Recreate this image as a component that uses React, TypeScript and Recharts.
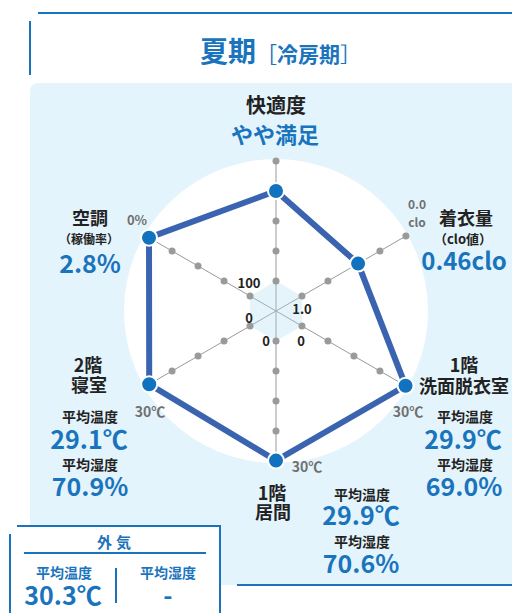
import React from 'react';
import { RadarChart, Radar, PolarGrid, PolarAngleAxis, PolarRadiusAxis } from 'recharts';

// 軸（上から時計回り）
const axes = ['快適度', '着衣量', '1階洗面脱衣室', '1階居間', '2階寝室', '空調'];
// 実測値
const rawValues = [4, 0.46, 29.9, 29.9, 29.1, 2.8];
// 中心側・外側の目盛り値
const innerEnds = [1, 1.0, 0, 0, 0, 100];
const outerEnds = [5, 0.0, 30, 30, 30, 0];
// 軸上の点（正規化 0〜100）
const gridLevels = [0, 25, 50, 75, 100];
const innerLabels = ['', '1.0', '0', '0', '0', '100'];
const outerLabels = ['', '0.0\nclo', '30℃', '30℃', '30℃', '0%'];

const FONT = '"Noto Sans CJK JP", "Noto Sans", sans-serif';
const BLUE = '#1a74bd';
const DARK = '#222';
const GRAY = '#707070';

const norm = (i: number) => ((rawValues[i] - innerEnds[i]) / (outerEnds[i] - innerEnds[i])) * 100;

const data = axes.map((axis, i) => {
  const row: Record<string, string | number> = { axis, score: norm(i), inner: 0 };
  gridLevels.forEach((lv, k) => (row[`lv${k}`] = lv));
  return row;
});

// 中心座標 (x, y) を基準にした文字ラベル
const T = ({ x, y, size, color = DARK, weight = 700, children, ls = 0 }: any) => (
  <div
    style={{
      position: 'absolute',
      left: x,
      top: y - size / 2,
      transform: 'translateX(-50%)',
      fontSize: size,
      lineHeight: `${size}px`,
      height: size,
      fontWeight: weight,
      color,
      letterSpacing: ls,
      whiteSpace: 'pre',
    }}
  >
    {children}
  </div>
);

const App = () => {
  return (
    <div style={{ position: 'absolute', left: 0, top: 0, width: 512, height: 613, overflow: 'hidden', background: '#fff', fontFamily: FONT }}>
      {/* 見出し */}
      <div style={{ position: 'absolute', left: 38, top: 12, width: 474, height: 2, background: BLUE }} />
      <div style={{ position: 'absolute', left: 29, top: 21, width: 2, height: 54, background: BLUE }} />
      <div style={{ position: 'absolute', left: 200, top: 35, height: 30, lineHeight: '30px', color: BLUE, whiteSpace: 'nowrap' }}>
        <span style={{ fontSize: 28, fontWeight: 700 }}>夏期</span>
        <span style={{ fontSize: 21, fontWeight: 400 }}>［</span>
        <span style={{ fontSize: 21, fontWeight: 700 }}>冷房期</span>
        <span style={{ fontSize: 21, fontWeight: 400 }}>］</span>
      </div>

      {/* パネル */}
      <div style={{ position: 'absolute', left: 30, top: 83, width: 482, height: 502, background: '#e4f4fc', borderTopLeftRadius: 8 }} />
      <div style={{ position: 'absolute', left: 237, top: 584, width: 275, height: 2, background: BLUE }} />
      <div style={{ position: 'absolute', left: 124, top: 159, width: 304, height: 304, borderRadius: '50%', background: '#fff' }} />

      <div style={{ position: 'absolute', left: 0, top: 0 }}>
        <RadarChart width={512} height={613} data={data} cx={276} cy={311} outerRadius={150} innerRadius={0}>
          <PolarGrid gridType="polygon" polarRadius={[0]} stroke="#999" strokeWidth={1} />
          <PolarAngleAxis dataKey="axis" tick={false} axisLine={false} tickLine={false} />
          <PolarRadiusAxis domain={[-25, 100]} tick={false} axisLine={false} tickLine={false} />
          <Radar dataKey="inner" stroke="none" fill="#a9daf2" fillOpacity={0.3} isAnimationActive={false} />
          {gridLevels.map((lv, k) => (
            <Radar
              key={lv}
              dataKey={`lv${k}`}
              stroke="none"
              fill="none"
              dot={{ r: 3.5, fill: '#9a9a9a', fillOpacity: 1, stroke: 'none' }}
              isAnimationActive={false}
            />
          ))}
          <Radar
            dataKey="score"
            stroke="#3b64b0"
            strokeWidth={6}
            fill="none"
            dot={{ r: 8, fill: '#1173bf', stroke: '#fff', strokeWidth: 2, fillOpacity: 1 }}
            isAnimationActive={false}
          />
        </RadarChart>
      </div>

      {/* 目盛りラベル */}
      <T x={417} y={204} size={12} color={GRAY}>{outerLabels[1].split('\n')[0]}</T>
      <T x={417} y={222} size={12} color={GRAY}>{outerLabels[1].split('\n')[1]}</T>
      <T x={408} y={411} size={14} color={GRAY}>{outerLabels[2]}</T>
      <T x={307} y={466} size={14} color={GRAY}>{outerLabels[3]}</T>
      <T x={150} y={411} size={14} color={GRAY}>{outerLabels[4]}</T>
      <T x={137} y={219} size={13} color={GRAY}>{outerLabels[5]}</T>
      <T x={302} y={308} size={13}>{innerLabels[1]}</T>
      <T x={301} y={340} size={13}>{innerLabels[2]}</T>
      <T x={266} y={340} size={13}>{innerLabels[3]}</T>
      <T x={249} y={317} size={13}>{innerLabels[4]}</T>
      <T x={249} y={282} size={13}>{innerLabels[5]}</T>

      {/* 快適度 */}
      <T x={276} y={105} size={20}>{axes[0]}</T>
      <T x={275} y={133} size={22} color={BLUE}>やや満足</T>

      {/* 着衣量 */}
      <T x={466} y={217} size={18}>{axes[1]}</T>
      <T x={463} y={238} size={13}>（clo値）</T>
      <T x={464} y={260} size={24} color={BLUE}>{rawValues[1]}clo</T>

      {/* 空調 */}
      <T x={90} y={217} size={18}>{axes[5]}</T>
      <T x={89} y={239} size={12}>（稼働率）</T>
      <T x={90} y={262} size={25} color={BLUE}>{rawValues[5]}%</T>

      {/* 2階寝室 */}
      <T x={88} y={364} size={18}>2階</T>
      <T x={89} y={384} size={18}>寝室</T>
      <T x={90} y={416} size={14}>平均温度</T>
      <T x={89} y={438} size={25} color={BLUE}>{rawValues[4].toFixed(1)}℃</T>
      <T x={90} y={464} size={14}>平均湿度</T>
      <T x={90} y={485} size={25} color={BLUE}>70.9%</T>

      {/* 1階洗面脱衣室 */}
      <T x={464} y={364} size={18}>1階</T>
      <T x={464} y={385} size={18}>洗面脱衣室</T>
      <T x={465} y={416} size={14}>平均温度</T>
      <T x={463} y={438} size={25} color={BLUE}>{rawValues[2].toFixed(1)}℃</T>
      <T x={465} y={464} size={14}>平均湿度</T>
      <T x={464} y={485} size={25} color={BLUE}>69.0%</T>

      {/* 1階居間 */}
      <T x={272} y={492} size={18}>1階</T>
      <T x={273} y={511} size={18}>居間</T>
      <T x={362} y={494} size={14}>平均温度</T>
      <T x={361} y={514} size={25} color={BLUE}>{rawValues[3].toFixed(1)}℃</T>
      <T x={362} y={541} size={14}>平均湿度</T>
      <T x={361} y={562} size={25} color={BLUE}>70.6%</T>

      {/* 外気 */}
      <div style={{ position: 'absolute', left: 17, top: 525, width: 202, height: 100, background: '#fff', borderTop: `2px solid ${BLUE}`, borderRight: `2px solid ${BLUE}` }} />
      <div style={{ position: 'absolute', left: 9, top: 534, width: 2, height: 79, background: BLUE }} />
      <T x={116} y={541} size={15} color={BLUE} ls={4}>外気</T>
      <div style={{ position: 'absolute', left: 24, top: 552, width: 182, height: 1.5, background: BLUE }} />
      <T x={64} y={572} size={14} color={BLUE}>平均温度</T>
      <T x={63} y={594} size={25} color={BLUE}>30.3℃</T>
      <div style={{ position: 'absolute', left: 115, top: 568, width: 1.5, height: 35, background: BLUE }} />
      <T x={168} y={572} size={14} color={BLUE}>平均湿度</T>
      <T x={168} y={594} size={25} color={BLUE}>-</T>
    </div>
  );
};

export default App;
